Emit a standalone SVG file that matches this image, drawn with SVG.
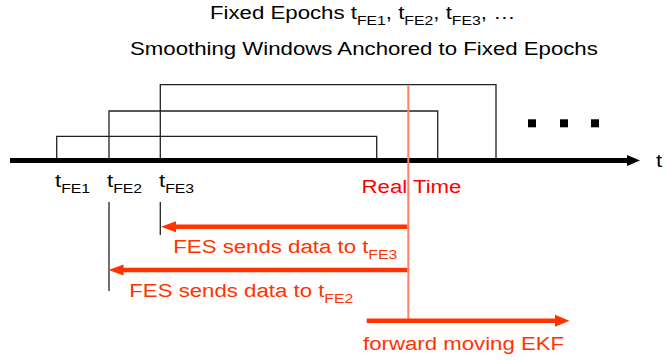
<svg xmlns="http://www.w3.org/2000/svg" width="666" height="360" viewBox="0 0 666 360">
  <defs>
    <style>
      text { font-family: "Liberation Sans", Arial, sans-serif; font-size: 19px; }
      .blk { fill: #000; }
      .red { fill: #FF0000; }
      .org { fill: #FF3300; }
      .sub { font-size: 13.5px; }
      .win { fill: none; stroke: #222; stroke-width: 1.3; }
      .tick { stroke: #222; stroke-width: 1.3; }
      .rt { stroke: #FF8066; stroke-width: 2; }
      .shaft { stroke: #FF3300; stroke-width: 4.5; }
    </style>
  </defs>

  <!-- headings -->
  <g id="title">
    <text class="blk" transform="translate(210,18.5) scale(1.17,1)">Fixed Epochs t<tspan class="sub" dy="6">FE1</tspan><tspan dy="-6">, t</tspan><tspan class="sub" dy="6">FE2</tspan><tspan dy="-6">, t</tspan><tspan class="sub" dy="6">FE3</tspan><tspan dy="-6">, …</tspan></text>
    <text class="blk" transform="translate(130,55) scale(1.17,1)">Smoothing Windows Anchored to Fixed Epochs</text>
  </g>

  <!-- time axis -->
  <g id="axis">
    <rect x="10" y="158" width="619" height="5" fill="#000"/>
    <polygon points="627,155 640,160.5 627,166" fill="#000"/>
    <text class="blk" transform="translate(656,167) scale(1.17,1)">t</text>
  </g>

  <!-- smoothing windows -->
  <g id="window1"><polyline class="win" points="56.7,158 56.7,136.3 376.7,136.3 376.7,158"/></g>
  <g id="window2"><polyline class="win" points="109,158 109,111 437.7,111 437.7,158"/></g>
  <g id="window3"><polyline class="win" points="160.3,158 160.3,84.7 496,84.7 496,158"/></g>

  <!-- continuation marks -->
  <g id="more">
    <rect x="528" y="119.3" width="8" height="8" fill="#000"/>
    <rect x="560" y="119.3" width="8" height="8" fill="#000"/>
    <rect x="591" y="119.3" width="8" height="8" fill="#000"/>
  </g>

  <!-- epoch labels -->
  <g id="epoch1"><text class="blk" transform="translate(55,186.5) scale(1.17,1)">t<tspan class="sub" dy="6">FE1</tspan></text></g>
  <g id="epoch2">
    <text class="blk" transform="translate(107,186.5) scale(1.17,1)">t<tspan class="sub" dy="6">FE2</tspan></text>
    <line class="tick" x1="109" y1="202" x2="109" y2="291"/>
  </g>
  <g id="epoch3">
    <text class="blk" transform="translate(159,186.5) scale(1.17,1)">t<tspan class="sub" dy="6">FE3</tspan></text>
    <line class="tick" x1="160.3" y1="202" x2="160.3" y2="235"/>
  </g>

  <!-- real time marker -->
  <g id="realtime">
    <line class="rt" x1="408.3" y1="84.7" x2="408.3" y2="321"/>
    <text class="red" transform="translate(361.5,192.7) scale(1.17,1)">Real Time</text>
  </g>

  <!-- connectors -->
  <g id="connectors">
    <line class="shaft" x1="407.3" y1="226.7" x2="174" y2="226.7"/>
    <polygon points="161,226.7 176,221.2 176,232.2" fill="#FF3300"/>
    <line class="shaft" x1="407.3" y1="270" x2="121" y2="270"/>
    <polygon points="108.5,270 123.5,264.5 123.5,275.5" fill="#FF3300"/>
    <line class="shaft" x1="366.7" y1="320.7" x2="557" y2="320.7"/>
    <polygon points="569.5,320.7 555,314.7 555,326.7" fill="#FF3300"/>
  </g>

  <!-- arrow labels -->
  <g id="fes3"><text class="org" transform="translate(173.3,253.3) scale(1.17,1)">FES sends data to t<tspan class="sub" dy="6">FE3</tspan></text></g>
  <g id="fes2"><text class="org" transform="translate(129.3,296.5) scale(1.17,1)">FES sends data to t<tspan class="sub" dy="6">FE2</tspan></text></g>
  <g id="ekf"><text class="org" transform="translate(363,350) scale(1.17,1)">forward moving EKF</text></g>
</svg>
